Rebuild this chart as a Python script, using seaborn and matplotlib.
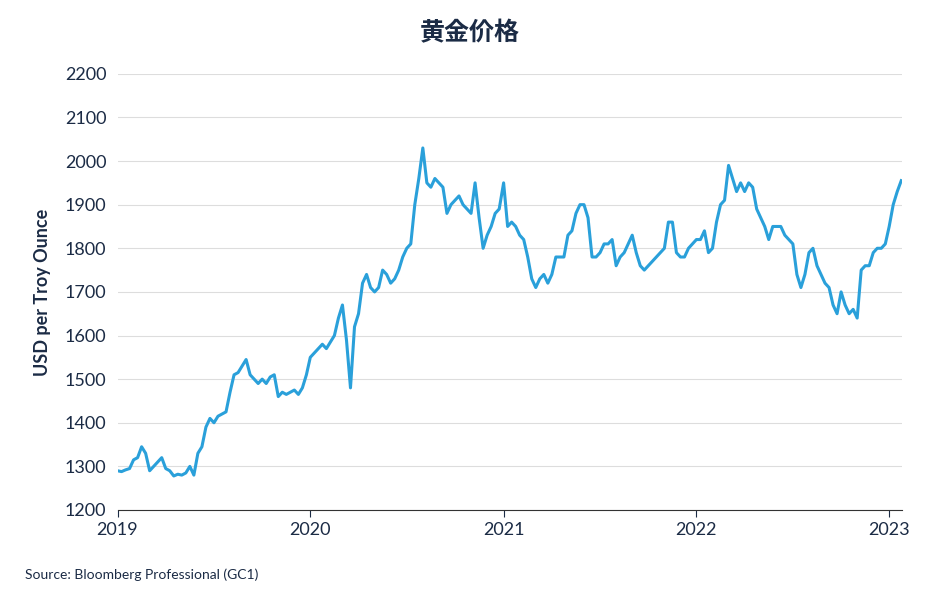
import pandas as pd
import numpy as np
import matplotlib.pyplot as plt
import seaborn as sns

plt.rcParams['font.family'] = ['Lato', 'Noto Sans CJK SC', 'Noto Sans CJK JP', 'DejaVu Sans']

# 周次金价
prices_2019 = [1290, 1288, 1292, 1295, 1315, 1320, 1345, 1330, 1290, 1300, 1310, 1320,
               1295, 1290, 1278, 1282, 1280, 1285, 1300, 1280, 1330, 1345, 1390, 1410,
               1400, 1415, 1420, 1425, 1470, 1510, 1515, 1530, 1545, 1510, 1500, 1490,
               1500, 1490, 1505, 1510, 1460, 1470, 1465, 1470, 1475, 1465, 1480, 1510]
prices_2020 = [1550, 1560, 1570, 1580, 1570, 1585, 1600, 1640, 1670, 1590, 1480, 1620,
               1650, 1720, 1740, 1710, 1700, 1710, 1750, 1740, 1720, 1730, 1750, 1780,
               1800, 1810, 1900, 1960, 2030, 1950, 1940, 1960, 1950, 1940, 1880, 1900,
               1910, 1920, 1900, 1890, 1880, 1950, 1870, 1800, 1830, 1850, 1880, 1890]
prices_2021 = [1950, 1850, 1860, 1850, 1830, 1820, 1780, 1730, 1710, 1730, 1740, 1720,
               1740, 1780, 1780, 1780, 1830, 1840, 1880, 1900, 1900, 1870, 1780, 1780,
               1790, 1810, 1810, 1820, 1760, 1780, 1790, 1810, 1830, 1790, 1760, 1750,
               1760, 1770, 1780, 1790, 1800, 1860, 1860, 1790, 1780, 1780, 1800, 1810]
prices_2022 = [1820, 1820, 1840, 1790, 1800, 1860, 1900, 1910, 1990, 1960, 1930, 1950,
               1930, 1950, 1940, 1890, 1870, 1850, 1820, 1850, 1850, 1850, 1830, 1820,
               1810, 1740, 1710, 1740, 1790, 1800, 1760, 1740, 1720, 1710, 1670, 1650,
               1700, 1670, 1650, 1660, 1640, 1750, 1760, 1760, 1790, 1800, 1800, 1810]
prices_2023 = [1850, 1900, 1930, 1955]

prices = prices_2019 + prices_2020 + prices_2021 + prices_2022 + prices_2023
dates = []
for yr, arr in [(2019, prices_2019), (2020, prices_2020), (2021, prices_2021),
                (2022, prices_2022), (2023, prices_2023)]:
    dates += list(pd.Timestamp(f'{yr}-01-01') + pd.to_timedelta(np.arange(len(arr)) * 365.25 / 48, unit='D'))
df = pd.DataFrame({'date': dates, 'price': prices})

navy = '#1b2b45'
fig, ax = plt.subplots(figsize=(9.4, 6), dpi=100)
sns.lineplot(data=df, x='date', y='price', color='#2aa0da', linewidth=2.2, ax=ax)

ax.set_xlim(pd.Timestamp('2019-01-01'), pd.Timestamp('2023-01-26'))
ax.set_ylim(1200, 2200)
ax.set_yticks(range(1200, 2201, 100))
ticks = [pd.Timestamp(f'{y}-01-01') for y in range(2019, 2024)]
ax.set_xticks(ticks)
ax.set_xticklabels([str(y) for y in range(2019, 2024)])
ax.grid(axis='y', color='#dddddd', linewidth=0.8)
ax.set_axisbelow(True)
for s in ['top', 'right', 'left']:
    ax.spines[s].set_visible(False)
ax.spines['bottom'].set_color('#333333')
ax.tick_params(axis='y', length=0, labelsize=13, colors=navy, pad=8)
ax.tick_params(axis='x', length=5, labelsize=13, colors=navy)
ax.set_xlabel('')
ax.set_ylabel('USD per Troy Ounce', fontsize=13, fontweight='bold', color=navy, labelpad=10)

fig.suptitle('黄金价格', fontsize=18, fontweight='bold', color=navy,
             family=['Noto Sans CJK SC', 'Noto Sans CJK JP', 'Noto Sans CJK TC'], y=0.965)
fig.text(0.027, 0.035, 'Source: Bloomberg Professional (GC1)', fontsize=10, color=navy)
fig.subplots_adjust(left=0.125, right=0.96, top=0.877, bottom=0.15)
fig.savefig('out.png', dpi=100)
